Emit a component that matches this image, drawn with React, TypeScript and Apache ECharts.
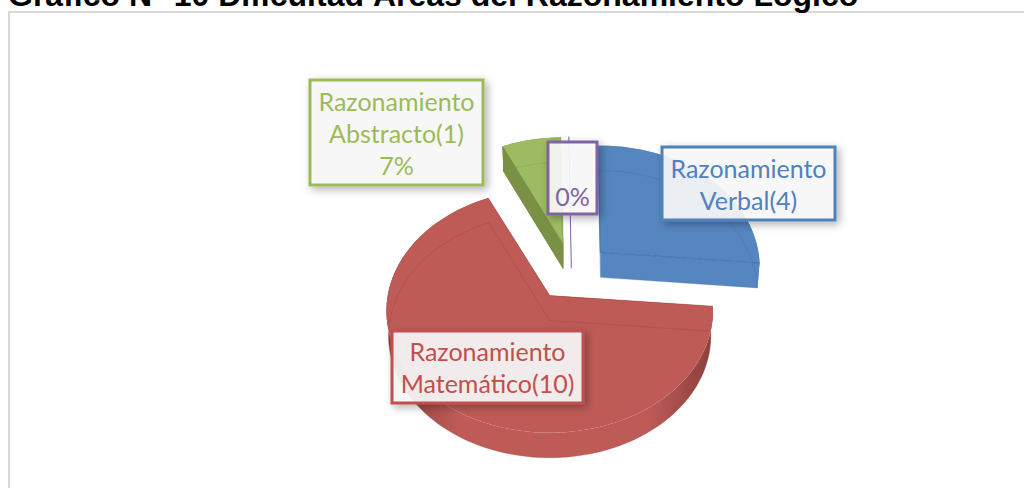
import React, { useEffect, useRef } from "react";
import * as echarts from "echarts";

const titleText = "Gráfico N° 10 Dificultad Áreas del Razonamiento Lógico";
const sliceNames = ["Razonamiento Verbal", "Razonamiento Matemático", "Razonamiento Abstracto", "Otros"];
const sliceValues = [4, 10, 1, 0];
const sliceColors = ["#5686C0", "#BF5B57", "#9DBB61", "#8064A2"];
const sliceDark = ["#3D6BA5", "#8A3F3C", "#7A9145", "#8064A2"];
const sliceWidths = [158, 162, 160, 162];
const labelLines = [
  ["Razonamiento", "Verbal(4)"],
  ["Razonamiento", "Matemático(10)"],
  ["Razonamiento", "Abstracto(1)", "7%"],
  ["0%"],
];
const labelBoxes = [
  { x: 662, y: 147, w: 173, h: 73, textDy: 0 },
  { x: 392, y: 331, w: 191, h: 72, textDy: 0 },
  { x: 310, y: 80, w: 173, h: 105, textDy: 0 },
  { x: 548, y: 142, w: 49, h: 72, textDy: 18 },
];
const labelColors = ["#4F81BD", "#C0504D", "#9BBB59", "#8064A2"];

const CX = 572, CY = 272, AXY = 120, PERSP = 0.125, DEPTH = 25, EXPLODE = 0.24, START = -1;

function proj(clock: number, rx: number) {
  const a = (clock * Math.PI) / 180;
  const X = Math.sin(a);
  const Y = -Math.cos(a);
  const s = 1 / (1 - PERSP * Y);
  return [X * rx * s, Y * AXY * s];
}

function renderSlice(params: any, api: any) {
  const i = params.dataIndex;
  const total = sliceValues.reduce((p, c) => p + c, 0);
  const before = sliceValues.slice(0, i).reduce((p, c) => p + c, 0);
  const value = api.value(0);
  const a0 = START + (before / total) * 360;
  const a1 = a0 + (value / total) * 360;
  const mid = ((a0 + a1) / 2) * Math.PI / 180;
  const ux = CX + EXPLODE * 162 * Math.sin(mid);
  const uy = CY - EXPLODE * AXY * Math.cos(mid);
  const color = sliceColors[i];
  const dark = sliceDark[i];

  const n = Math.max(2, Math.ceil((a1 - a0) / 2));
  const arcU: number[][] = [];
  const arcL: number[][] = [];
  for (let k = 0; k <= n; k++) {
    const p = proj(a0 + ((a1 - a0) * k) / n, sliceWidths[i]);
    arcU.push([ux + p[0], uy + p[1]]);
    arcL.push([ux + p[0] * 0.987, uy + DEPTH + p[1]]);
  }
  const apexU = [ux, uy];
  const apexL = [ux, uy + DEPTH];
  const children: any[] = [];

  if (value === 0) {
    return {
      type: "polyline",
      shape: { points: [arcU[0], apexL] },
      style: { stroke: color, lineWidth: 1, fill: "none" },
    };
  }

  const wallFill = new echarts.graphic.LinearGradient(0, 0, 1, 0, [
    { offset: 0, color: dark },
    { offset: 0.22, color },
    { offset: 0.8, color },
    { offset: 1, color: dark },
  ]);
  children.push({
    type: "polygon",
    shape: { points: [...arcU, ...arcL.slice().reverse()] },
    style: { fill: i === 1 ? wallFill : i === 2 ? dark : color },
  });
  children.push({
    type: "polygon",
    shape: { points: [apexU, arcU[0], arcL[0], apexL] },
    style: { fill: i === 2 ? dark : color },
  });
  children.push({
    type: "polygon",
    shape: { points: [apexU, arcU[n], arcL[n], apexL] },
    style: { fill: i === 2 ? dark : color },
  });
  children.push({
    type: "polygon",
    shape: { points: [apexU, ...arcU] },
    style: { fill: color },
  });
  if (i === 2) {
    children.push({
      type: "polygon",
      shape: { points: [arcU[0], arcL[0], apexL, apexU] },
      style: { fill: dark },
    });
  }
  children.push({
    type: "polyline",
    shape: { points: [apexL, ...arcL, apexL] },
    style: { stroke: dark, lineWidth: 1, opacity: 0.3, fill: "none" },
  });
  children.push({
    type: "polyline",
    shape: { points: [arcU[n], apexU, arcU[0]] },
    style: { stroke: dark, lineWidth: 1, opacity: i === 0 ? 0.8 : 0.4, fill: "none" },
  });
  return { type: "group", children };
}

export default function App() {
  const ref = useRef<HTMLDivElement>(null);
  useEffect(() => {
    document.body.style.margin = "0";
    const chart = echarts.init(ref.current!, undefined, { renderer: "svg" });
    const labelGraphics: any[] = [];
    labelBoxes.forEach((b, i) => {
      labelGraphics.push({
        type: "rect",
        z: 10,
        shape: { x: b.x, y: b.y, width: b.w, height: b.h },
        style: {
          fill: "rgba(250,250,250,0.9)",
          stroke: labelColors[i],
          lineWidth: 3,
          shadowBlur: 9,
          shadowColor: "rgba(0,0,0,0.32)",
          shadowOffsetX: 3,
          shadowOffsetY: 3,
        },
      });
      const lines = labelLines[i];
      const lh = 32;
      const top = b.y + (b.h - lines.length * lh) / 2;
      lines.forEach((t, j) => {
        labelGraphics.push({
          type: "text",
          z: 11,
          style: {
            x: b.x + b.w / 2,
            y: top + lh * j + lh / 2 + b.textDy,
            text: t,
            fill: labelColors[i],
            font: "25px Lato",
            align: "center",
            verticalAlign: "middle",
          },
        });
      });
    });
    chart.setOption({
      animation: false,
      backgroundColor: "#fff",
      graphic: [
        {
          type: "text",
          z: 12,
          style: {
            x: 8,
            y: 11,
            text: titleText,
            fill: "#000",
            font: "bold 32px 'Liberation Sans'",
            align: "left",
            verticalAlign: "bottom",
          },
        },
        {
          type: "rect",
          z: 0,
          shape: { x: 9, y: 12, width: 1100, height: 600 },
          style: { fill: "#fff", stroke: "#D9D9D9", lineWidth: 2 },
        },
        ...labelGraphics,
      ],
      series: [
        {
          type: "custom",
          coordinateSystem: "none",
          z: 5,
          renderItem: renderSlice,
          data: sliceValues.map((v, i) => ({ name: sliceNames[i], value: [v] })),
        },
      ],
    });
    return () => chart.dispose();
  }, []);
  return <div ref={ref} style={{ width: 1024, height: 488 }} />;
}
